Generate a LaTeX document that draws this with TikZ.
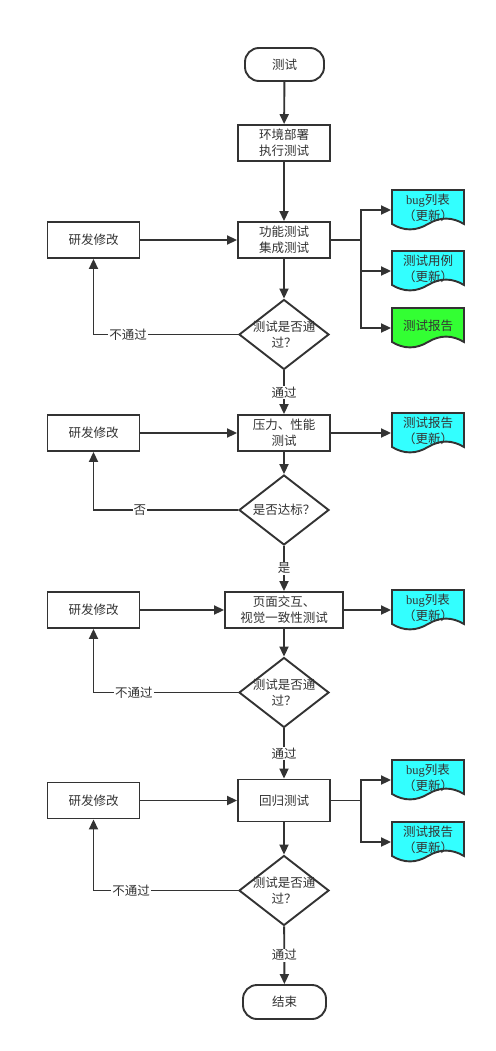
\documentclass[tikz,border=0pt]{standalone}
\usepackage{fontspec}
\setmainfont{Noto Sans CJK SC}
\newfontfamily\bugfont{Liberation Serif}
\usetikzlibrary{arrows.meta,shapes.geometric,calc}
\definecolor{ink}{HTML}{333333}
\definecolor{docblue}{HTML}{33FFFF}
\definecolor{docgreen}{HTML}{33FF33}

% document shape with wavy bottom: name, centre, fill, text
\newcommand{\docnode}[4]{%
  \node[docframe] (#1) at (#2) {};
  \filldraw[fill=#3] ($(#1)+(-36,-20)$) -- ($(#1)+(36,-20)$) -- ($(#1)+(36,14)$)
    .. controls ($(#1)+(24,6.8)$) and ($(#1)+(12,6.8)$) .. ($(#1)+(0,14)$)
    .. controls ($(#1)+(-12,21.2)$) and ($(#1)+(-24,21.2)$) .. ($(#1)+(-36,14)$) -- cycle;
  \node[align=center] at ($(#1)+(0,-2)$) {#4};
}

\begin{document}
\begin{tikzpicture}[x=1pt, y=-1pt, line width=1.9pt, color=ink,
    font=\fontsize{12.5}{16}\selectfont,
    box/.style={draw, fill=white, rectangle, minimum width=92, minimum height=36, inner sep=0, align=center},
    term/.style={draw, fill=white, rounded corners=14, minimum width=79, minimum height=33},
    dia/.style={draw, fill=white, diamond, minimum width=90, minimum height=70, inner sep=0},
    docframe/.style={minimum width=72, minimum height=40, inner sep=0},
    flow/.style={-{Triangle[length=10pt,width=9pt]}},
    lbl/.style={fill=white, inner sep=1pt}]
    \useasboundingbox (0,0) rectangle (495,1051);

    % first stage
    \node[term] (start) at (284.5,64.5) {测试};
    \node[box] (deploy) at (284,143) {环境部署\\执行测试};
    \node[box] (func) at (284,240) {功能测试\\集成测试};
    \node[box] (fix1) at (93.5,240) {研发修改};
    \node[dia, label={[align=center, inner sep=0]center:测试是否通\\过？}] (chk1) at (284,334.5) {};
    \docnode{bug1}{428,210}{docblue}{{\bugfont bug}列表\\（更新）}
    \docnode{case1}{428,271}{docblue}{测试用例\\（更新）}
    \docnode{rep1}{428,328}{docgreen}{测试报告}
    \coordinate (j1) at (361,240);

    % second stage
    \node[box] (press) at (284,433) {压力、性能\\测试};
    \node[box] (fix2) at (93.5,433) {研发修改};
    \node[dia, label={[inner sep=0]center:是否达标？}] (chk2) at (284,510) {};
    \docnode{rep2}{428,433}{docblue}{测试报告\\（更新）}

    % third stage
    \node[box, minimum width=118] (ui) at (284,610) {页面交互、\\视觉一致性测试};
    \node[box] (fix3) at (93.5,610) {研发修改};
    \node[dia, label={[align=center, inner sep=0]center:测试是否通\\过？}] (chk3) at (284,692.5) {};
    \docnode{bug3}{428,610}{docblue}{{\bugfont bug}列表\\（更新）}

    % fourth stage
    \node[box, minimum height=42] (reg) at (284,800.5) {回归测试};
    \node[box] (fix4) at (93.5,800.5) {研发修改};
    \node[dia, label={[align=center, inner sep=0]center:测试是否通\\过？}] (chk4) at (284,890.5) {};
    \docnode{bug4}{428,780}{docblue}{{\bugfont bug}列表\\（更新）}
    \docnode{rep4}{428,842}{docblue}{测试报告\\（更新）}
    \coordinate (j4) at (361,800.5);
    \node[term, minimum width=83, minimum height=34] (stop) at (284.5,1002) {结束};

    % connectors
    \draw[flow] (start) -- (deploy);
    \draw[flow] (deploy) -- (func);
    \draw[flow] (func) -- (chk1);
    \draw[flow] (fix1) -- (func);
    \draw (func.east) -- (j1);
    \draw[flow] (j1) |- (bug1.west);
    \draw[flow] (j1) |- (case1.west);
    \draw[flow] (j1) |- (rep1.west);
    \draw[flow] (chk1.west) -| node[lbl, pos=0.38] {不通过} (fix1.south);
    \draw[flow] (chk1) -- node[lbl] {通过} (press);

    \draw[flow] (fix2) -- (press);
    \draw[flow] (press) -- (rep2);
    \draw[flow] (press) -- (chk2);
    \draw[flow] (chk2.west) -| node[lbl, pos=0.34] {否} (fix2.south);
    \draw[flow] (chk2) -- node[lbl] {是} (ui);

    \draw[flow] (fix3) -- (ui);
    \draw[flow] (ui) -- (bug3);
    \draw[flow] (ui) -- (chk3);
    \draw[flow] (chk3.west) -| node[lbl, pos=0.36] {不通过} (fix3.south);
    \draw[flow] (chk3) -- node[lbl] {通过} (reg);

    \draw[flow] (fix4) -- (reg);
    \draw (reg.east) -- (j4);
    \draw[flow] (j4) |- (bug4.west);
    \draw[flow] (j4) |- (rep4.west);
    \draw[flow] (reg) -- (chk4);
    \draw[flow] (chk4.west) -| node[lbl, pos=0.37] {不通过} (fix4.south);
    \draw[flow] (chk4) -- node[lbl] {通过} (stop);
\end{tikzpicture}
\end{document}
